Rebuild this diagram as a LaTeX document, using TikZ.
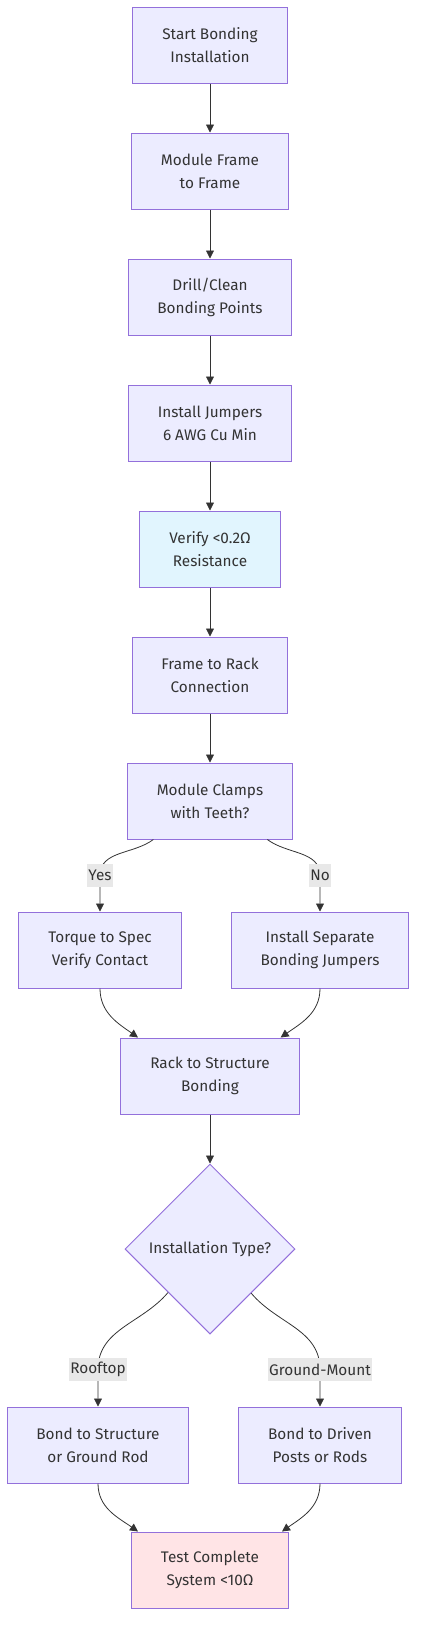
\documentclass[tikz,border=0pt]{standalone}
\usepackage{fontspec}
\setmainfont{Fira Sans}
\usepackage{xcolor}
\usetikzlibrary{shapes.geometric, arrows.meta, positioning}

\definecolor{boxfill}{HTML}{ECECFF}
\definecolor{boxline}{HTML}{9370DB}
\definecolor{inkgray}{HTML}{333333}
\definecolor{checkfill}{HTML}{E1F5FE}
\definecolor{testfill}{HTML}{FFE4E6}
\definecolor{tagfill}{HTML}{E8E8E8}

\begin{document}
\begin{tikzpicture}[
        node distance=36.75pt,
        every node/.style={font=\fontsize{11.5}{17.25}\selectfont, text=inkgray},
        stepbox/.style={rectangle, draw=boxline, fill=boxfill, line width=0.75pt, align=center, minimum height=57pt, inner xsep=22pt},
        check/.style={stepbox, fill=checkfill},
        finish/.style={stepbox, fill=testfill},
        choice/.style={diamond, draw=boxline, fill=boxfill, line width=0.75pt, aspect=1, minimum size=127.5pt, inner sep=0pt},
        tag/.style={fill=tagfill, inner xsep=1pt, inner ysep=0pt, minimum height=17pt},
        arrow/.style={-{Triangle[length=6pt, width=6pt]}, line width=0.6pt, color=inkgray}
    ]
    \useasboundingbox (0,0) rectangle (318pt,-1234.5pt);

    % --- Nodes (Main Chain) ---
    \node[stepbox] (start) at (157.5pt,-33.75pt) {Start Bonding\\Installation};
    \node[stepbox, below=of start] (frame) {Module Frame\\to Frame};
    \node[stepbox, below=of frame] (drill) {Drill/Clean\\Bonding Points};
    \node[stepbox, below=of drill] (jumpers) {Install Jumpers\\6 AWG Cu Min};
    \node[check, below=of jumpers] (verify) {Verify <0.2Ω\\Resistance};
    \node[stepbox, below=of verify] (rack) {Frame to Rack\\Connection};
    \node[stepbox, below=of rack] (clamps) {Module Clamps\\with Teeth?};

    % Clamp branches
    \node[stepbox, below=54pt of clamps, xshift=-82.5pt] (torque) {Torque to Spec\\Verify Contact};
    \node[stepbox, below=54pt of clamps, xshift=82.5pt] (separate) {Install Separate\\Bonding Jumpers};
    \node[stepbox, below=of torque, xshift=82.5pt] (structure) {Rack to Structure\\Bonding};

    % Installation type
    \node[choice, below=of structure] (type) {Installation Type?};
    \node[stepbox, below=54pt of type, xshift=-84pt] (rooftop) {Bond to Structure\\or Ground Rod};
    \node[stepbox, below=54pt of type, xshift=82.5pt] (ground) {Bond to Driven\\Posts or Rods};
    \node[finish, below=36pt of rooftop, xshift=84pt] (test) {Test Complete\\System <10Ω};

    % --- Edges ---
    \draw[arrow] (start) -- (frame);
    \draw[arrow] (frame) -- (drill);
    \draw[arrow] (drill) -- (jumpers);
    \draw[arrow] (jumpers) -- (verify);
    \draw[arrow] (verify) -- (rack);
    \draw[arrow] (rack) -- (clamps);

    % Yes / No
    \draw[arrow] ([xshift=-42.5pt]clamps.south) to[out=217, in=90] ([yshift=27pt]torque.north) node[tag] {Yes} -- (torque);
    \draw[arrow] ([xshift=43pt]clamps.south) to[out=-37, in=90] ([yshift=27pt]separate.north) node[tag] {No} -- (separate);
    \draw[arrow] (torque.south) to[out=-90, in=145] ([xshift=-54pt]structure.north);
    \draw[arrow] (separate.south) to[out=-90, in=35] ([xshift=53pt]structure.north);
    \draw[arrow] (structure) -- (type);

    % Rooftop / Ground-Mount
    \draw[arrow] (type.226) to[out=230, in=90] ([yshift=27.75pt]rooftop.north) node[tag] {Rooftop} -- (rooftop);
    \draw[arrow] (type.313) to[out=-50, in=90] ([yshift=27.75pt]ground.north) node[tag] {Ground-Mount} -- (ground);
    \draw[arrow] (rooftop.south) to[out=-90, in=145] ([xshift=-54pt]test.north);
    \draw[arrow] (ground.south) to[out=-90, in=35] ([xshift=54pt]test.north);

    \end{tikzpicture}
\end{document}
